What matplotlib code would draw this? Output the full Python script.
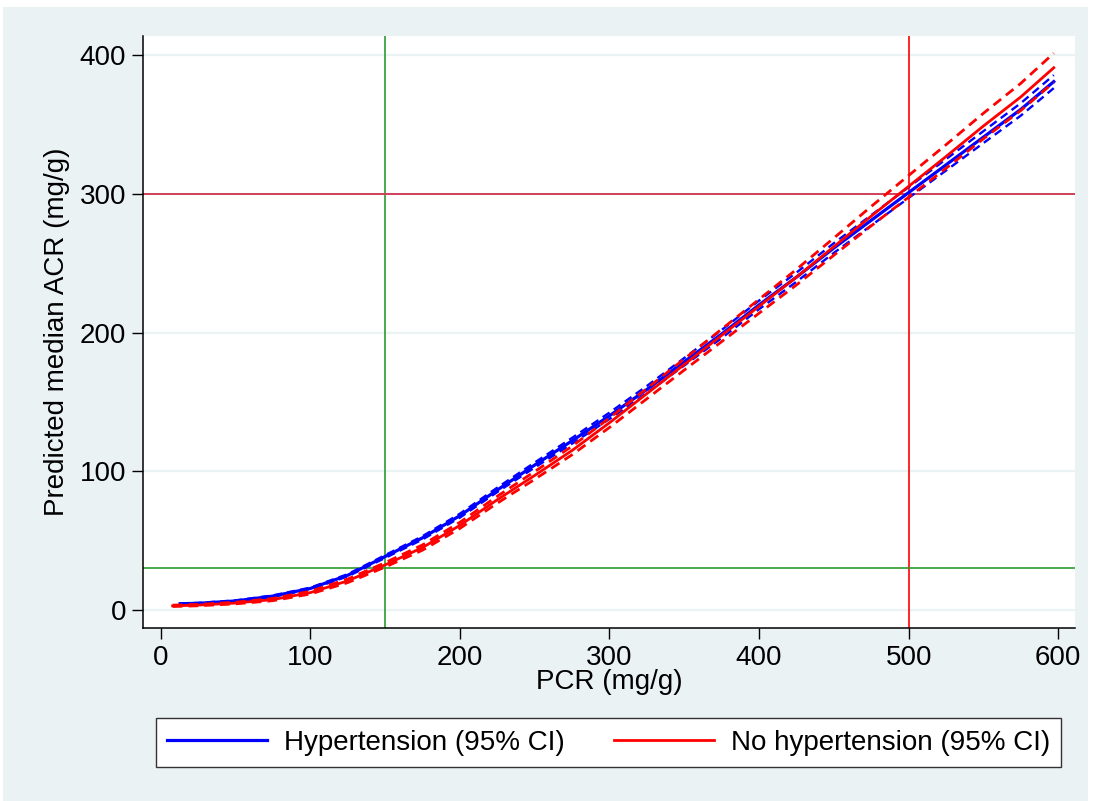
import matplotlib
matplotlib.use('Agg')
import matplotlib.pyplot as plt
from matplotlib.patches import Rectangle

plt.rcParams['font.family'] = ['Liberation Sans', 'DejaVu Sans']

# values
pcr_hyp = [13, 25, 50, 75, 100, 125, 150, 175, 200, 225, 250, 275, 300, 325, 350, 375, 400, 425, 450, 475, 500, 525, 550, 575, 597]
acr_hyp = [4.5, 4.8, 6.5, 10, 15.5, 25, 38.5, 52, 68, 86.5, 104.5, 122, 140, 159, 179, 199, 220, 240, 261, 281, 301, 321, 341, 361, 381]
acr_hyp_lo = [4.2, 4.5, 6.1, 9.5, 14.9, 24.2, 37.5, 50.8, 66.6, 85.0, 102.7, 119.9, 137.7, 156.5, 176.3, 196.1, 216.9, 236.7, 257.5, 277.3, 297.1, 316.9, 336.7, 356.5, 376.3]
acr_hyp_hi = [4.8, 5.1, 6.9, 10.5, 16.1, 25.8, 39.5, 53.2, 69.4, 88.2, 106.3, 124.1, 142.3, 161.5, 181.7, 201.9, 223.1, 243.3, 264.5, 284.7, 304.9, 325.1, 345.3, 365.5, 385.7]

pcr_nohyp = [8, 25, 50, 75, 100, 125, 150, 175, 200, 225, 250, 275, 300, 325, 350, 375, 400, 425, 450, 475, 500, 525, 550, 575, 597]
acr_nohyp = [3, 3.5, 5, 7.5, 12.5, 21, 32.5, 45, 61, 79.5, 97, 115, 135, 156, 177, 198, 219, 240, 262, 284, 305.5, 327, 349, 370, 391]
acr_nohyp_lo = [2.5, 3.0, 4.4, 6.7, 11.5, 19.7, 30.9, 43.1, 58.8, 77.0, 94.2, 111.9, 131.6, 152.3, 173.0, 193.5, 214.0, 234.4, 255.8, 277.0, 297.7, 318.5, 339.8, 360.2, 380.5]
acr_nohyp_hi = [3.5, 4.0, 5.6, 8.3, 13.5, 22.3, 34.1, 46.9, 63.2, 82.0, 99.8, 118.1, 138.4, 159.7, 181.0, 202.5, 224.0, 245.6, 268.2, 291.0, 313.3, 335.5, 358.2, 379.8, 401.5]

xticks = [0, 100, 200, 300, 400, 500, 600]
yticks = [0, 100, 200, 300, 400]
pcr_cut = [150, 500]   # vertical reference lines
acr_cut = [30, 300]    # horizontal reference lines

W, H = 1093, 801
fig = plt.figure(figsize=(W / 100, H / 100), dpi=100, facecolor='white')
bg = '#EAF2F3'
fig.patches.append(Rectangle((3 / W, 0), (1088 - 3) / W, 1 - 7 / H, transform=fig.transFigure,
                             facecolor=bg, edgecolor='none', zorder=-10))

ax = fig.add_axes([143 / W, 1 - 628 / H, (1075 - 143) / W, (628 - 36) / H])
ax.set_facecolor('white')
ax.set_xlim(-11.8, 611.2)
ax.set_ylim(-13.0, 413.9)

for y in yticks:
    ax.axhline(y, color=bg, lw=1.6, zorder=0)

# reference lines
ax.axvline(pcr_cut[0], color='#2E9A2E', lw=1.2, zorder=1)
ax.axvline(pcr_cut[1], color='#FF0000', lw=1.2, zorder=1)
ax.axhline(acr_cut[0], color='#2E9A2E', lw=1.2, zorder=1)
ax.axhline(acr_cut[1], color='#D0405A', lw=1.4, zorder=1)

dash = (0, (3.5, 2.2))
ax.plot(pcr_hyp, acr_hyp_lo, color='#0000FF', lw=1.7, ls=dash, zorder=2)
ax.plot(pcr_hyp, acr_hyp_hi, color='#0000FF', lw=1.7, ls=dash, zorder=2)
h1, = ax.plot(pcr_hyp, acr_hyp, color='#0000FF', lw=2.3, zorder=3)
ax.plot(pcr_nohyp, acr_nohyp_lo, color='#FF0000', lw=2.0, ls=dash, zorder=3)
ax.plot(pcr_nohyp, acr_nohyp_hi, color='#FF0000', lw=2.0, ls=dash, zorder=3)
h2, = ax.plot(pcr_nohyp, acr_nohyp, color='#FF0000', lw=2.0, zorder=3)

for s in ['top', 'right']:
    ax.spines[s].set_visible(False)
for s in ['left', 'bottom']:
    ax.spines[s].set_linewidth(1.1)
    ax.spines[s].set_color('black')

ax.set_xticks(xticks)
ax.set_yticks(yticks)
ax.tick_params(axis='both', direction='out', length=8, width=1.0, labelsize=20, pad=4)

ax.set_xlabel('PCR (mg/g)', fontsize=20, labelpad=-1)
ax.set_ylabel('Predicted median ACR (mg/g)', fontsize=20, labelpad=7)

leg = fig.legend([h1, h2], ['Hypertension (95% CI)', 'No hypertension (95% CI)'],
                 loc='center', bbox_to_anchor=(608.5 / W, 1 - 742.5 / H), ncol=2,
                 fontsize=20, frameon=True, fancybox=False, framealpha=1,
                 edgecolor='#333333', handlelength=3.6, handletextpad=0.6,
                 columnspacing=1.8, borderpad=0.4)
leg.get_frame().set_linewidth(1.0)

fig.savefig('out.png', dpi=100, facecolor=fig.get_facecolor())
